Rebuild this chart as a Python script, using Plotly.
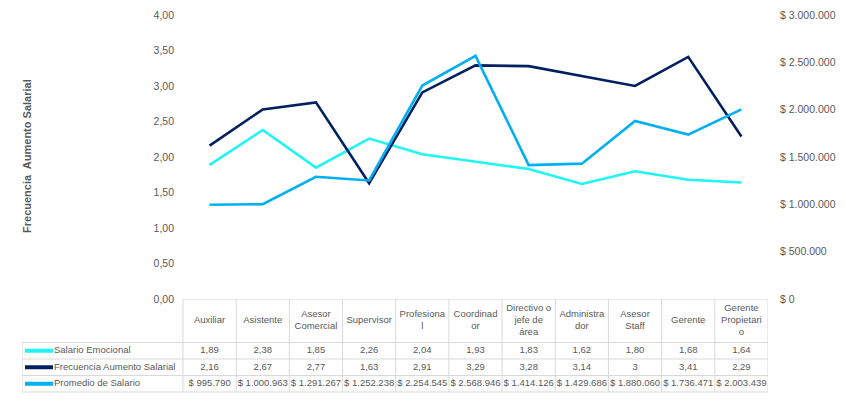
import plotly.graph_objects as go

categorias = ["Auxiliar", "Asistente", "Asesor Comercial", "Supervisor", "Profesional",
              "Coordinador", "Directivo o jefe de área", "Administrador", "Asesor Staff",
              "Gerente", "Gerente Propietario"]
encabezados = ["Auxiliar", "Asistente", "Asesor<br>Comercial", "Supervisor", "Profesiona<br>l",
               "Coordinad<br>or", "Directivo o<br>jefe de<br>área", "Administra<br>dor",
               "Asesor<br>Staff", "Gerente", "Gerente<br>Propietari<br>o"]
series_nombres = ["Salario Emocional", "Frecuencia Aumento Salarial", "Promedio de Salario"]
salario_emocional = [1.89, 2.38, 1.85, 2.26, 2.04, 1.93, 1.83, 1.62, 1.80, 1.68, 1.64]
frecuencia_aumento = [2.16, 2.67, 2.77, 1.63, 2.91, 3.29, 3.28, 3.14, 3, 3.41, 2.29]
promedio_salario = [995790, 1000963, 1291267, 1252238, 2254545, 2568946, 1414126,
                    1429686, 1880060, 1736471, 2003439]

C_EMO = "#1FF5F5"
C_FRE = "#002060"
C_PRO = "#00B0F0"
colores = [C_EMO, C_FRE, C_PRO]
GRAY = "#595959"
BORDER = "#D9D9D9"
FONT = "Liberation Sans"
TFS = 9.5

fig = go.Figure()
fig.add_trace(go.Scatter(x=categorias, y=salario_emocional, mode="lines",
                         line=dict(color=C_EMO, width=2.6), name=series_nombres[0],
                         showlegend=False))
fig.add_trace(go.Scatter(x=categorias, y=frecuencia_aumento, mode="lines",
                         line=dict(color=C_FRE, width=2.6), name=series_nombres[1],
                         showlegend=False))
fig.add_trace(go.Scatter(x=categorias, y=promedio_salario, mode="lines", yaxis="y2",
                         line=dict(color=C_PRO, width=2.6), name=series_nombres[2],
                         showlegend=False))

def fmt2(v):
    return f"{v:.2f}".replace(".", ",")

def fmtg(v):
    return f"{v:g}".replace(".", ",")

def fmt_money(v):
    return "$ " + f"{v:,.0f}".replace(",", ".")

filas = [[fmt2(v) for v in salario_emocional],
         [fmtg(v) for v in frecuencia_aumento],
         [fmt_money(v) for v in promedio_salario]]

# ---- data table drawn in its own hidden subplot (x3 / y3) ----
n = len(categorias)
COL_W = 585 / 11          # px per category column
LABEL_W = 161             # px of the label column
ROW_PX = 16.5
HEAD = 43.5 / ROW_PX      # header height in row units
XL = -0.5 - LABEL_W / COL_W
Y_BOTTOM = HEAD + len(filas)
idx = list(range(n))

fig.add_trace(go.Scatter(x=idx, y=[HEAD / 2] * n, mode="text", text=encabezados,
                         textposition="middle center", xaxis="x3", yaxis="y3",
                         textfont=dict(family=FONT, size=TFS, color=GRAY),
                         showlegend=False, hoverinfo="skip", cliponaxis=False))
for r, fila in enumerate(filas):
    fig.add_trace(go.Scatter(x=idx, y=[HEAD + r + 0.5] * n, mode="text", text=fila,
                             textposition="middle center", xaxis="x3", yaxis="y3",
                             textfont=dict(family=FONT, size=TFS, color=GRAY),
                             showlegend=False, hoverinfo="skip", cliponaxis=False))
fila_y = [HEAD + r + 0.5 for r in range(len(filas))]
fig.add_trace(go.Scatter(x=[XL + 17 / COL_W] * len(filas), y=fila_y, mode="markers",
                         marker=dict(symbol="line-ew", size=20,
                                     line=dict(color=colores, width=4)),
                         xaxis="x3", yaxis="y3", showlegend=False, hoverinfo="skip",
                         cliponaxis=False))
fig.add_trace(go.Scatter(x=[XL + 32 / COL_W] * len(filas), y=fila_y, mode="text",
                         text=series_nombres, textposition="middle right",
                         xaxis="x3", yaxis="y3",
                         textfont=dict(family=FONT, size=TFS, color=GRAY),
                         showlegend=False, hoverinfo="skip", cliponaxis=False))

shapes = []
ln = dict(color=BORDER, width=1)
for i in range(n + 1):
    shapes.append(dict(type="line", xref="x3", yref="y3", x0=i - 0.5, x1=i - 0.5,
                       y0=0, y1=Y_BOTTOM, line=ln))
shapes.append(dict(type="line", xref="x3", yref="y3", x0=XL, x1=XL,
                   y0=HEAD, y1=Y_BOTTOM, line=ln))
shapes.append(dict(type="line", xref="x3", yref="y3", x0=-0.5, x1=n - 0.5,
                   y0=0, y1=0, line=ln))
for r in range(len(filas) + 1):
    shapes.append(dict(type="line", xref="x3", yref="y3", x0=XL, x1=n - 0.5,
                       y0=HEAD + r, y1=HEAD + r, line=ln))

fig.update_layout(
    width=846, height=402,
    margin=dict(l=22, r=78, t=15, b=5, autoexpand=False),
    paper_bgcolor="white", plot_bgcolor="white",
    separators=",.",
    font=dict(family=FONT, color=GRAY),
    xaxis=dict(domain=[LABEL_W / 746, 1], range=[-0.5, n - 0.5], showticklabels=False,
               showgrid=False, zeroline=False, showline=False, automargin=False),
    yaxis=dict(domain=[0.2565, 1], range=[0, 4], dtick=0.5, tickformat=".2f",
               showgrid=False, zeroline=False, showline=False, automargin=False,
               tickfont=dict(size=10.5, color=GRAY), ticklabelstandoff=8),
    yaxis2=dict(overlaying="y", side="right", range=[0, 3000000], dtick=500000,
                tickprefix="$ ", tickformat=",d", showgrid=False, zeroline=False,
                showline=False, tickfont=dict(size=10.5, color=GRAY), automargin=False,
                ticklabelstandoff=11),
    xaxis3=dict(domain=[0, 1], range=[XL, n - 0.5], visible=False, anchor="y3",
                automargin=False),
    yaxis3=dict(domain=[0, 0.2565], range=[98 / ROW_PX, 0], visible=False, anchor="x3",
                automargin=False),
    shapes=shapes,
    annotations=[dict(text="<b>Frecuencia  Aumento Salarial</b>", xref="paper", yref="paper",
                      x=0.0067, y=0.631, xanchor="center", yanchor="middle",
                      textangle=-90, showarrow=False,
                      font=dict(family=FONT, size=11, color=GRAY))],
)

fig.write_html("out.html", config={"responsive": False, "displayModeBar": False},
               post_script="document.body.style.margin='0';")
